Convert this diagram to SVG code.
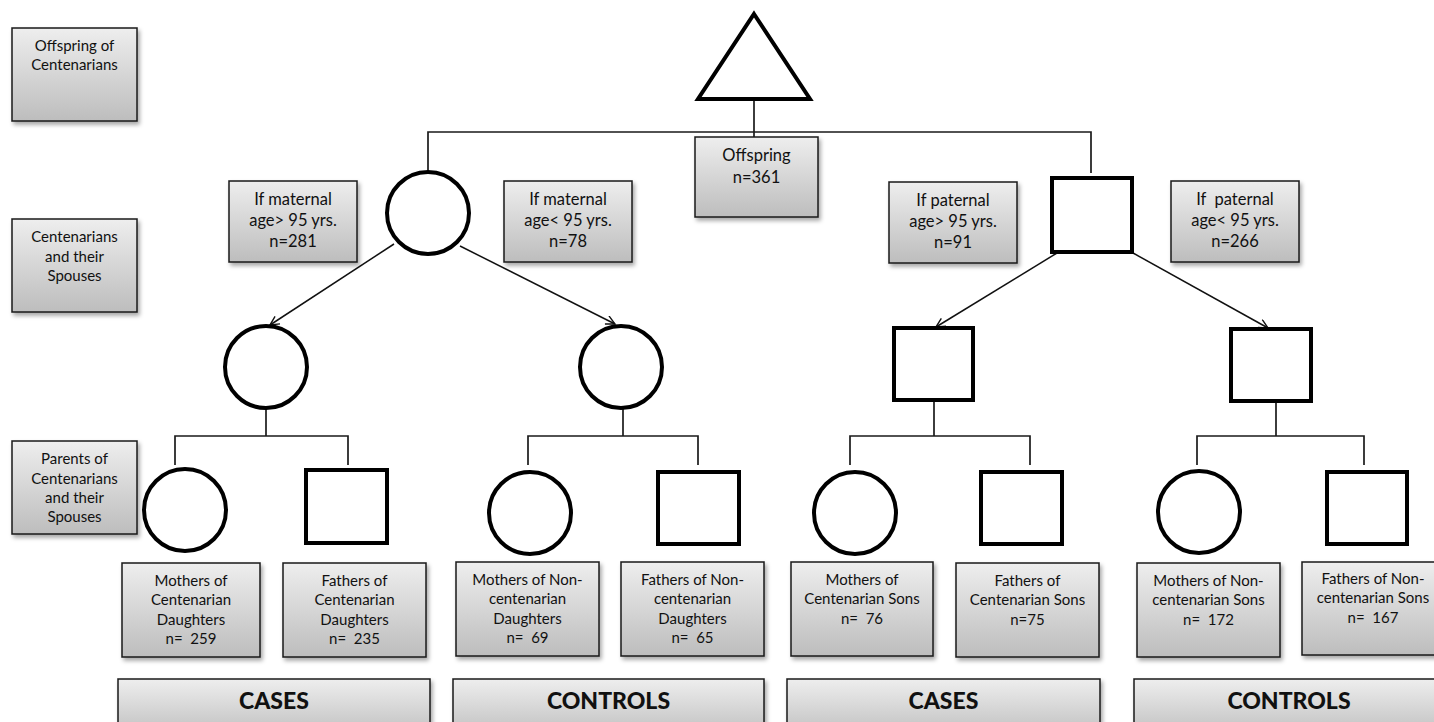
<svg xmlns="http://www.w3.org/2000/svg" width="1434" height="722" viewBox="0 0 1434 722">
<defs>
<linearGradient id="g" x1="0" y1="0" x2="0" y2="1">
<stop offset="0" stop-color="#eeeeee"/>
<stop offset="1" stop-color="#bdbdbd"/>
</linearGradient>
<filter id="sh" x="-10%" y="-10%" width="125%" height="130%">
<feDropShadow dx="2" dy="3" stdDeviation="2" flood-color="#000" flood-opacity="0.35"/>
</filter>
<marker id="arr" markerWidth="12" markerHeight="12" refX="10" refY="5" orient="auto" markerUnits="userSpaceOnUse">
<path d="M1,0.5 L10,5 L1,9.5" fill="none" stroke="#111" stroke-width="1.4"/>
</marker>
</defs>
<style>
.box{fill:url(#g);stroke:#1a1a1a;stroke-width:1.5;filter:url(#sh)}
text{white-space:pre}
.t{font-family:Lato,"Liberation Sans",sans-serif;font-size:16.5px;fill:#111;text-anchor:middle}
.s{font-family:Lato,"Liberation Sans",sans-serif;font-size:15px;fill:#111;text-anchor:middle}
.b{font-family:Lato,"Liberation Sans",sans-serif;font-size:23px;font-weight:900;fill:#111;text-anchor:middle}
.sym{fill:#fff;stroke:#000;stroke-width:4}
.ln{fill:none;stroke:#1a1a1a;stroke-width:1.7}
.ar{fill:none;stroke:#111;stroke-width:1.5;marker-end:url(#arr)}
</style>
<rect width="1434" height="722" fill="#fff"/>

<g id="connectors">
<line class="ln" x1="754" y1="99" x2="754" y2="137"/>
<polyline class="ln" points="428,171 428,132 1091,132 1091,173"/>
<line class="ar" x1="394" y1="244" x2="270" y2="325"/>
<line class="ar" x1="460" y1="246" x2="615" y2="324"/>
<line class="ar" x1="1057" y1="253" x2="936" y2="327"/>
<line class="ar" x1="1133" y1="253" x2="1268" y2="328"/>
<line class="ln" x1="266" y1="408" x2="266" y2="436"/>
<polyline class="ln" points="175,465 175,436 348,436 348,465"/>
<line class="ln" x1="623" y1="408" x2="623" y2="436"/>
<polyline class="ln" points="528,465 528,436 698,436 698,465"/>
<line class="ln" x1="934" y1="400" x2="934" y2="436"/>
<polyline class="ln" points="850,465 850,436 1030,436 1030,465"/>
<line class="ln" x1="1276" y1="401" x2="1276" y2="436"/>
<polyline class="ln" points="1197,465 1197,436 1364,436 1364,465"/>
</g>

<g id="legend-offspring"><rect class="box" x="12" y="28" width="125" height="93"/><text class="s" x="74.5" y="51">Offspring of</text><text class="s" x="74.5" y="70">Centenarians</text></g>
<g id="legend-centenarians"><rect class="box" x="12" y="219" width="125" height="93"/><text class="s" x="74.5" y="242">Centenarians</text><text class="s" x="74.5" y="262">and their</text><text class="s" x="74.5" y="281">Spouses</text></g>
<g id="legend-parents"><rect class="box" x="12" y="441" width="125" height="93"/><text class="s" x="74.5" y="464">Parents of</text><text class="s" x="74.5" y="484">Centenarians</text><text class="s" x="74.5" y="503">and their</text><text class="s" x="74.5" y="522">Spouses</text></g>

<g id="offspring-symbol"><polygon class="sym" points="754,14 810,99 698,99" stroke-width="4.5"/></g>
<g id="offspring-label"><rect class="box" x="695" y="137" width="123" height="80"/><text class="t" x="756.5" y="161">Offspring</text><text class="t" x="756.5" y="183">n=361</text></g>

<g id="mother-centenarian"><circle class="sym" cx="428" cy="213" r="41"/></g>
<g id="label-maternal-gt"><rect class="box" x="229" y="181" width="128" height="81"/><text class="t" x="293" y="205">If maternal</text><text class="t" x="293" y="226">age&gt; 95 yrs.</text><text class="t" x="293" y="247">n=281</text></g>
<g id="label-maternal-lt"><rect class="box" x="504" y="181" width="128" height="81"/><text class="t" x="568" y="205">If maternal</text><text class="t" x="568" y="226">age&lt; 95 yrs.</text><text class="t" x="568" y="247">n=78</text></g>

<g id="father-centenarian"><rect class="sym" x="1052" y="178" width="80" height="74" stroke-width="4.5"/></g>
<g id="label-paternal-gt"><rect class="box" x="889" y="182" width="128" height="81"/><text class="t" x="953" y="206">If paternal</text><text class="t" x="953" y="227">age&gt; 95 yrs.</text><text class="t" x="953" y="248">n=91</text></g>
<g id="label-paternal-lt"><rect class="box" x="1171" y="181" width="128" height="81"/><text class="t" x="1235" y="205">If  paternal</text><text class="t" x="1235" y="226">age&lt; 95 yrs.</text><text class="t" x="1235" y="247">n=266</text></g>

<g id="daughter-centenarian"><circle class="sym" cx="266" cy="367" r="41"/></g>
<g id="daughter-noncentenarian"><circle class="sym" cx="621" cy="367" r="41"/></g>
<g id="son-centenarian"><rect class="sym" x="894" y="328" width="79" height="72"/></g>
<g id="son-noncentenarian"><rect class="sym" x="1231" y="329" width="80" height="72"/></g>

<g id="p1"><circle class="sym" cx="185" cy="510" r="41"/></g>
<g id="p2"><rect class="sym" x="306" y="470" width="81" height="73"/></g>
<g id="p3"><circle class="sym" cx="530" cy="513" r="41"/></g>
<g id="p4"><rect class="sym" x="658" y="472" width="81" height="72"/></g>
<g id="p5"><circle class="sym" cx="855" cy="513" r="41"/></g>
<g id="p6"><rect class="sym" x="981" y="472" width="81" height="72"/></g>
<g id="p7"><circle class="sym" cx="1199" cy="512" r="41"/></g>
<g id="p8"><rect class="sym" x="1327" y="472" width="80" height="72"/></g>

<g id="l1"><rect class="box" x="122" y="563" width="138" height="94"/><text class="s" x="191" y="586">Mothers of</text><text class="s" x="191" y="605">Centenarian</text><text class="s" x="191" y="625">Daughters</text><text class="s" x="191" y="644">n=  259</text></g>
<g id="l2"><rect class="box" x="283" y="563" width="143" height="94"/><text class="s" x="354.5" y="586">Fathers of</text><text class="s" x="354.5" y="605">Centenarian</text><text class="s" x="354.5" y="625">Daughters</text><text class="s" x="354.5" y="644">n=  235</text></g>
<g id="l3"><rect class="box" x="456" y="562" width="143" height="94"/><text class="s" x="527.5" y="585">Mothers of Non-</text><text class="s" x="527.5" y="604">centenarian</text><text class="s" x="527.5" y="624">Daughters</text><text class="s" x="527.5" y="643">n=  69</text></g>
<g id="l4"><rect class="box" x="621" y="562" width="143" height="94"/><text class="s" x="692.5" y="585">Fathers of Non-</text><text class="s" x="692.5" y="604">centenarian</text><text class="s" x="692.5" y="624">Daughters</text><text class="s" x="692.5" y="643">n=  65</text></g>
<g id="l5"><rect class="box" x="791" y="562" width="142" height="94"/><text class="s" x="862" y="585">Mothers of</text><text class="s" x="862" y="604">Centenarian Sons</text><text class="s" x="862" y="624">n=  76</text></g>
<g id="l6"><rect class="box" x="956" y="563" width="143" height="94"/><text class="s" x="1027.5" y="586">Fathers of</text><text class="s" x="1027.5" y="605">Centenarian Sons</text><text class="s" x="1027.5" y="625">n=75</text></g>
<g id="l7"><rect class="box" x="1137" y="563" width="143" height="94"/><text class="s" x="1208.5" y="586">Mothers of Non-</text><text class="s" x="1208.5" y="605">centenarian Sons</text><text class="s" x="1208.5" y="625">n=  172</text></g>
<g id="l8"><rect class="box" x="1302" y="562" width="143" height="93"/><text class="s" x="1373" y="584">Fathers of Non-</text><text class="s" x="1373" y="603">centenarian Sons</text><text class="s" x="1373" y="623">n=  167</text></g>

<g id="cases1"><rect class="box" x="118" y="679" width="312" height="60"/><text class="b" x="274" y="709">CASES</text></g>
<g id="controls1"><rect class="box" x="453" y="679" width="311" height="60"/><text class="b" x="608.5" y="709">CONTROLS</text></g>
<g id="cases2"><rect class="box" x="787" y="679" width="313" height="60"/><text class="b" x="943.5" y="709">CASES</text></g>
<g id="controls2"><rect class="box" x="1134" y="679" width="310" height="60"/><text class="b" x="1289" y="709">CONTROLS</text></g>
</svg>
